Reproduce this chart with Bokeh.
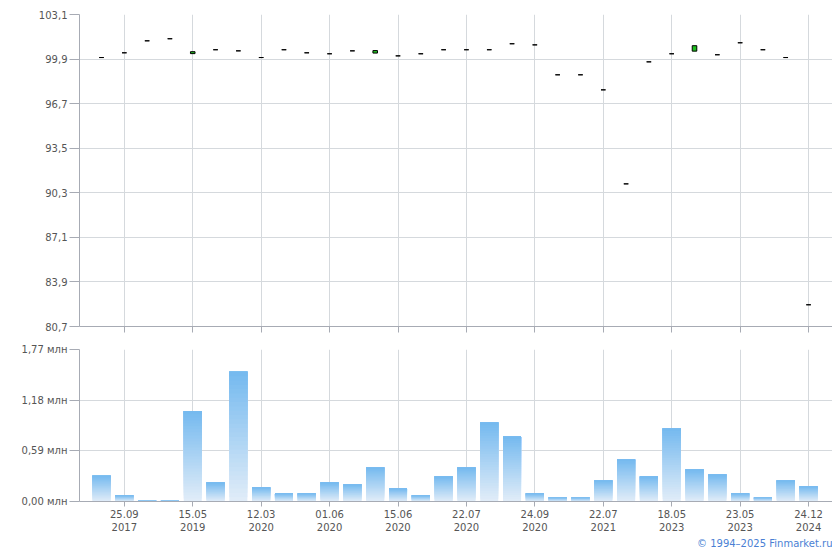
from bokeh.plotting import figure
from bokeh.layouts import column
from bokeh.models import Range1d, FixedTicker, Title
from bokeh.embed import file_html
from bokeh.resources import INLINE

# ---------------- data ----------------
slots = list(range(32))

price_open = [100.01, 100.35, 101.21, 101.36, 100.29, 100.57, 100.49, 100.01,
              100.57, 100.35, 100.28, 100.49, 100.33, 100.13, 100.28, 100.57,
              100.57, 100.57, 101.00, 100.92, 98.77, 98.77, 97.69, 90.94,
              99.70, 100.28, 100.47, 100.21, 101.07, 100.57, 100.01, 82.26]
price_close = [100.01, 100.35, 101.21, 101.36, 100.43, 100.57, 100.49, 100.01,
               100.57, 100.35, 100.28, 100.49, 100.51, 100.13, 100.28, 100.57,
               100.57, 100.57, 101.00, 100.92, 98.77, 98.77, 97.69, 90.94,
               99.70, 100.28, 100.86, 100.21, 101.07, 100.57, 100.01, 82.26]

volume_mln = [0.30, 0.07, 0.012, 0.012, 1.05, 0.22, 1.51, 0.163,
              0.093, 0.093, 0.22, 0.198, 0.396, 0.151, 0.07, 0.29,
              0.396, 0.92, 0.757, 0.093, 0.047, 0.047, 0.245, 0.489,
              0.29, 0.85, 0.373, 0.314, 0.093, 0.047, 0.245, 0.175]

tick_pos = [1, 4, 7, 10, 13, 16, 19, 22, 25, 28, 31]
tick_day = ["25.09", "15.05", "12.03", "01.06", "15.06", "22.07",
            "24.09", "22.07", "18.05", "23.05", "24.12"]
tick_year = ["2017", "2019", "2020", "2020", "2020", "2020",
             "2020", "2021", "2023", "2023", "2024"]

price_ticks = [80.7, 83.9, 87.1, 90.3, 93.5, 96.7, 99.9, 103.1]
price_tick_labels = ["80,7", "83,9", "87,1", "90,3", "93,5", "96,7", "99,9", "103,1"]
vol_ticks = [0.0, 0.59, 1.18, 1.77]
vol_tick_labels = ["0,00 млн", "0,59 млн", "1,18 млн", "1,77 млн"]

# ---------------- style ----------------
FONT = "DejaVu Sans"
LABEL_COLOR = "#555555"
GRID = "#d5d9dd"
AXIS = "#a7abb4"
X_RANGE = (-0.965, 32.05)


def style(p, yticks, ylabels, show_x_labels):
    p.outline_line_color = None
    p.background_fill_color = "white"
    p.border_fill_color = "white"
    p.xgrid.grid_line_color = GRID
    p.ygrid.grid_line_color = GRID
    p.xaxis.ticker = FixedTicker(ticks=tick_pos)
    p.yaxis.ticker = FixedTicker(ticks=yticks)
    p.yaxis.major_label_overrides = {t: l for t, l in zip(yticks, ylabels)}
    for ax in (p.xaxis[0], p.yaxis[0]):
        ax.axis_line_color = AXIS
        ax.major_tick_line_color = AXIS
        ax.minor_tick_line_color = None
        ax.major_tick_in = 0
        ax.major_label_text_font = FONT
        ax.major_label_text_font_size = "10px"
        ax.major_label_text_color = LABEL_COLOR
    p.yaxis.major_tick_out = 10
    p.yaxis.major_label_standoff = 2
    if show_x_labels:
        p.xaxis.major_tick_out = 5
        p.xaxis.major_label_standoff = 2
        p.xaxis.major_label_overrides = {
            t: f"{d}\n{y}" for t, d, y in zip(tick_pos, tick_day, tick_year)}
    else:
        p.xaxis.major_tick_out = 6
        p.xaxis.major_label_text_font_size = "0px"
        p.xaxis.major_label_standoff = 0
        p.xaxis.major_label_overrides = {t: "" for t in tick_pos}


# ---------------- price chart ----------------
p1 = figure(width=832, height=340, output_backend="svg", toolbar_location=None,
            x_range=Range1d(*X_RANGE), y_range=Range1d(80.7, 103.1),
            min_border_left=79, min_border_right=0, min_border_top=14,
            min_border_bottom=14)
style(p1, price_ticks, price_tick_labels, False)

tops = [max(o, c) for o, c in zip(price_open, price_close)]
bots = [min(o, c) for o, c in zip(price_open, price_close)]
fills = ["#1fbf1f" if c > o else "black" for o, c in zip(price_open, price_close)]
p1.vbar(x=slots, top=tops, bottom=bots, width=0.2, fill_color=fills,
        line_color="black", line_width=1)

# ---------------- volume chart ----------------
p2 = figure(width=832, height=210, output_backend="svg", toolbar_location=None,
            x_range=Range1d(*X_RANGE), y_range=Range1d(0, 1.77),
            min_border_left=79, min_border_right=0, min_border_top=9,
            min_border_bottom=49)
style(p2, vol_ticks, vol_tick_labels, True)

N = 30
blue = (0x74, 0xb9, 0xef)
pale = (0xe2, 0xed, 0xf8)
gx, gb, gt, gc = [], [], [], []
for i, v in zip(slots, volume_mln):
    for k in range(N):
        t = (k + 0.5) / N
        r, g, b = (round(pale[j] + (blue[j] - pale[j]) * t) for j in range(3))
        gx.append(i)
        gb.append(v * k / N)
        gt.append(v)
        gc.append(f"#{r:02x}{g:02x}{b:02x}")
p2.vbar(x=gx, bottom=gb, top=gt, width=0.79, fill_color=gc, line_color=None)

p2.add_layout(Title(text="© 1994–2025 Finmarket.ru", align="right",
                    text_font=FONT, text_font_size="10px",
                    text_font_style="normal", text_color="#4a7fd4",
                    standoff=0, offset=0), "below")

layout = column(p1, p2, spacing=0)
open("out.html", "w").write(file_html(layout, INLINE))
